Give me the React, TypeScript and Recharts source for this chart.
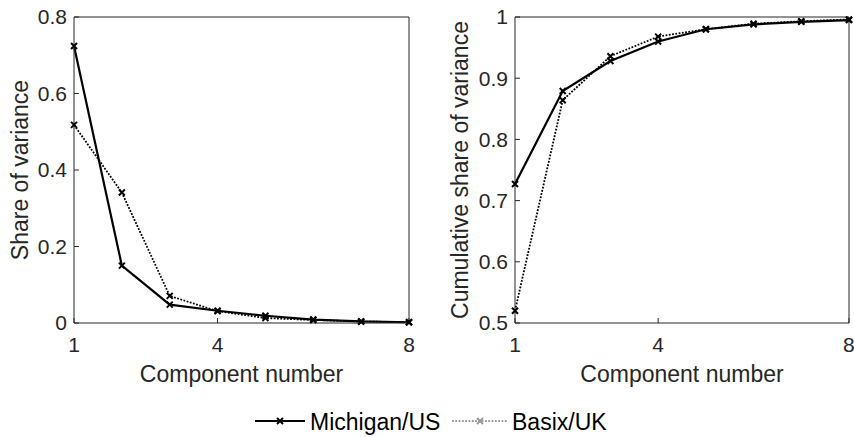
import { LineChart, Line, XAxis, YAxis } from 'recharts'

// 주성분 번호
const components = [1, 2, 3, 4, 5, 6, 7, 8]
const xTicks = [1, 4, 8]

// 각 성분의 분산 비율
const michiganShare = [0.724, 0.15, 0.048, 0.032, 0.019, 0.009, 0.004, 0.002]
const basixShare = [0.518, 0.341, 0.071, 0.031, 0.013, 0.008, 0.004, 0.002]

// 누적 분산 비율
const michiganCum = [0.727, 0.879, 0.928, 0.96, 0.98, 0.988, 0.992, 0.995]
const basixCum = [0.52, 0.864, 0.936, 0.968, 0.98, 0.989, 0.993, 0.996]

const shareTicks = [0, 0.2, 0.4, 0.6, 0.8]
const cumTicks = [0.5, 0.6, 0.7, 0.8, 0.9, 1]

const FONT = '"Liberation Sans", Arial, Helvetica, sans-serif'
const AXIS = '#262626'

const shareData = components.map((c, i) => ({ c, us: michiganShare[i], uk: basixShare[i] }))
const cumData = components.map((c, i) => ({ c, us: michiganCum[i], uk: basixCum[i] }))

// x 모양 마커
function XMark(props: any) {
  const { cx, cy, stroke, index } = props
  if (cx == null || cy == null) return <g key={index} />
  const s = 3
  return (
    <path
      key={index}
      d={`M${cx - s},${cy - s}L${cx + s},${cy + s}M${cx - s},${cy + s}L${cx + s},${cy - s}`}
      stroke={stroke}
      strokeWidth={2}
      strokeDasharray="none"
      fill="none"
    />
  )
}

const tickStyle = { fontSize: 21, fill: AXIS, fontFamily: FONT }
const labelStyle = { fontSize: 23, fill: AXIS, fontFamily: FONT, textAnchor: 'middle' as const }

function Panel({
  data, left, width, yWidth, marginRight, domain, ticks, yLabel, labelOffset,
}: {
  data: any[]; left: number; width: number; yWidth: number; marginRight: number
  domain: [number, number]; ticks: number[]; yLabel: string; labelOffset: number
}) {
  return (
    <div style={{ position: 'absolute', left, top: 0 }}>
      <LineChart width={width} height={400} data={data}
        margin={{ top: 16, right: marginRight - 1, left: 0, bottom: 17 }}>
        <XAxis
          dataKey="c" type="number" domain={[1, 8]} ticks={xTicks}
          height={60} tickSize={-5} tickMargin={19}
          stroke={AXIS} tick={tickStyle}
          label={{ value: 'Component number', position: 'insideBottom', offset: 1, style: labelStyle }}
        />
        <XAxis xAxisId="top" orientation="top" dataKey="c" type="number" domain={[1, 8]}
          ticks={xTicks} height={1} tickSize={-5} tick={false} stroke={AXIS} />
        <YAxis
          type="number" domain={domain} ticks={ticks} width={yWidth}
          tickSize={-5} tickMargin={12} stroke={AXIS} tick={tickStyle}
          label={{ value: yLabel, angle: -90, position: 'insideLeft', offset: labelOffset, style: labelStyle }}
        />
        <YAxis yAxisId="right" orientation="right" type="number" domain={domain} ticks={ticks}
          width={1} tickSize={-5} tick={false} stroke={AXIS} />
        {/* 상단/우측 테두리 축을 활성화하기 위한 보이지 않는 선 */}
        <Line xAxisId="top" yAxisId="right" dataKey="us" stroke="none" dot={false}
          activeDot={false} legendType="none" isAnimationActive={false} />
        <Line dataKey="uk" stroke="#000" strokeWidth={1.8} strokeDasharray="1.8 1.5"
          dot={XMark} activeDot={false} isAnimationActive={false} />
        <Line dataKey="us" stroke="#000" strokeWidth={2.2}
          dot={XMark} activeDot={false} isAnimationActive={false} />
      </LineChart>
    </div>
  )
}

function LegendMark({ x, y, color }: { x: number; y: number; color: string }) {
  const s = 3
  return (
    <path d={`M${x - s},${y - s}L${x + s},${y + s}M${x - s},${y + s}L${x + s},${y - s}`}
      stroke={color} strokeWidth={2} fill="none" />
  )
}

export default function App() {
  return (
    <div style={{ position: 'absolute', left: 0, top: 0, width: 854, height: 437, background: '#fff', overflow: 'hidden' }}>
      <Panel data={shareData} left={0} width={430} yWidth={74} marginRight={21}
        domain={[0, 0.8]} ticks={shareTicks} yLabel="Share of variance" labelOffset={20} />
      <Panel data={cumData} left={430} width={424} yWidth={85} marginRight={5}
        domain={[0.5, 1]} ticks={cumTicks} yLabel="Cumulative share of variance" labelOffset={30} />
      {/* 범례 */}
      <svg width={854} height={37} style={{ position: 'absolute', left: 0, top: 400 }}>
        <line x1={255} x2={305} y1={21} y2={21} stroke="#000" strokeWidth={2.2} />
        <LegendMark x={280} y={21} color="#000" />
        <text x={310} y={30} fontSize={23} fontFamily={FONT} fill="#000">Michigan/US</text>
        <line x1={452} x2={507} y1={21} y2={21} stroke="#999" strokeWidth={1.8} strokeDasharray="1.8 1.5" />
        <LegendMark x={480} y={21} color="#999" />
        <text x={512} y={30} fontSize={23} fontFamily={FONT} fill="#000">Basix/UK</text>
      </svg>
    </div>
  )
}
